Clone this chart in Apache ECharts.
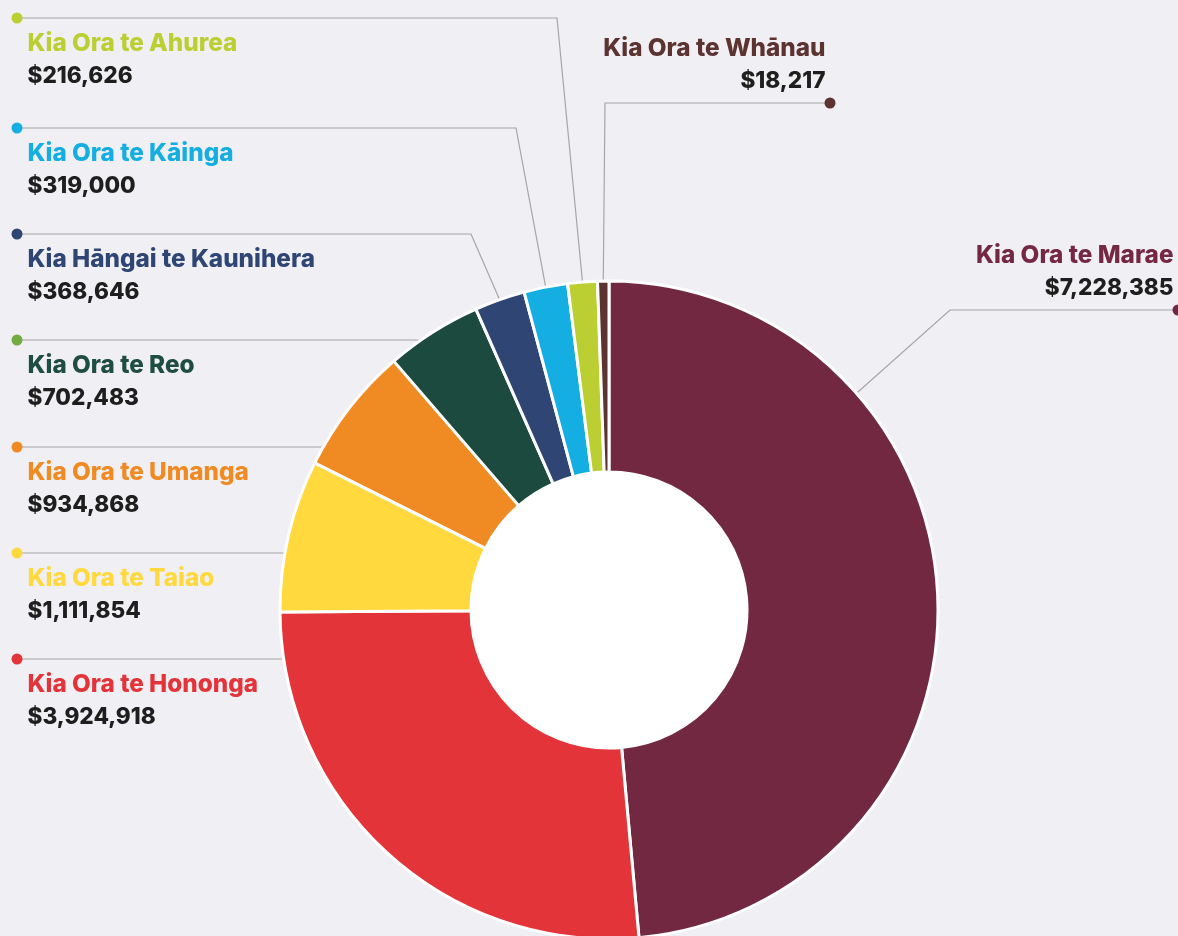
<!DOCTYPE html>
<html>
<head>
<meta charset="utf-8">
<script src="https://cdn.jsdelivr.net/npm/echarts@6/dist/echarts.min.js"></script>
<style>
html,body{margin:0;padding:0;background:#efeff4;}
#chart{width:1178px;height:936px;}
</style>
</head>
<body>
<div id="chart"></div>
<script>
// ---- data ----
const categories = ['Kia Ora te Marae','Kia Ora te Hononga','Kia Ora te Taiao','Kia Ora te Umanga','Kia Ora te Reo','Kia Hāngai te Kaunihera','Kia Ora te Kāinga','Kia Ora te Ahurea','Kia Ora te Whānau'];
const values = [7228385, 3924918, 1111854, 934868, 702483, 368646, 319000, 216626, 18217];

// ---- styles ----
const sliceColors = ['#732841','#e3343a','#ffd93d','#f08b24','#1d4a3f','#2f4674','#14aee3','#bbcf33','#5c3330'];
const nameColors  = ['#752842','#e3343a','#ffd93d','#f08b24','#1f4d3f','#2f4674','#14aee3','#bbcf33','#5c3330'];
const dotColors   = ['#732841','#e3343a','#ffd93d','#f08b24','#72ab43','#2f4674','#14aee3','#bbcf33','#5c3330'];

// ---- layout ----
const CX = 609, CY = 610, R = 329, R0 = 138;
const LAYOUT = [
  {side:'right', x:1183.5, top:238, bend:950, angle:48.8},
  {side:'left', lineY:659},
  {side:'left', lineY:553},
  {side:'left', lineY:447},
  {side:'left', lineY:340},
  {side:'left', lineY:234, bend:471},
  {side:'left', lineY:128, bend:516},
  {side:'left', lineY:18, bend:557},
  {side:'right', x:835.5, top:31, bend:605}
];

const FONT = 'Inter, "Noto Sans", sans-serif';
const FSN = 24.3, FSV = 22.6;
const rich = {
  vl: {fontFamily:FONT, fontWeight:800, fontSize:FSV, color:'#1e1e1e', lineHeight:28, padding:[0,0,0,16]},
  vr: {fontFamily:FONT, fontWeight:800, fontSize:FSV, color:'#1e1e1e', lineHeight:28, padding:[0,10,0,0]}
};
categories.forEach((c,i)=>{
  rich['d'+i] = {width:11, height:11, borderRadius:6, backgroundColor:dotColors[i], lineHeight:16, fontSize:1};
  rich['nl'+i] = {fontFamily:FONT, fontWeight:800, fontSize:FSN, color:nameColors[i], lineHeight:36, padding:[0,0,0,16]};
  rich['nr'+i] = {fontFamily:FONT, fontWeight:800, fontSize:FSN, color:nameColors[i], lineHeight:36, padding:[0,10,0,0]};
});

const fmt = v => '$' + v.toLocaleString('en-US');

const chart = echarts.init(document.getElementById('chart'), null, {renderer:'canvas'});
chart.setOption({
  backgroundColor:'#efeff4',
  animation:false,
  series:[
    {
      type:'pie', silent:true, z:1,
      center:[CX,CY], radius:[0,R0+2],
      label:{show:false}, labelLine:{show:false},
      itemStyle:{color:'#ffffff'},
      data:[{value:1,name:''}]
    },
    {
      type:'pie', z:2,
      center:[CX,CY], radius:[R0,R],
      startAngle:90, clockwise:true, minAngle:2,
      avoidLabelOverlap:false,
      emphasis:{disabled:true},
      itemStyle:{borderColor:'#ffffff', borderWidth:3},
      label:{
        show:true, position:'outside',
        formatter: p => {
          const i = p.dataIndex;
          if (LAYOUT[i].side==='right') return '{nr'+i+'|'+p.name+'}\n{vr|'+fmt(p.value)+'}\n{d'+i+'| }';
          return '{d'+i+'| }\n{nl'+i+'|'+p.name+'}\n{vl|'+fmt(p.value)+'}';
        },
        rich: rich
      },
      labelLine:{show:true, lineStyle:{color:'#a6a6a6', width:1.2}},
      labelLayout: function(p){
        const i = p.dataIndex, L = LAYOUT[i];
        const s = p.labelLinePoints ? p.labelLinePoints[0] : [CX,CY-R];
        if (L.side==='right'){
          const dotX = L.x-5.5, dotY = L.top+72;
          let end = s;
          if (L.angle!=null){ const a = L.angle*Math.PI/180; end=[CX+R*Math.sin(a), CY-R*Math.cos(a)]; }
          return {x:L.x, y:L.top, align:'right', verticalAlign:'top', labelLinePoints:[end,[L.bend,dotY],[dotX,dotY]]};
        }
        const dotX = 17, dotY = L.lineY;
        let end, bend;
        if (L.bend!=null){ end = s; bend=[L.bend,dotY]; }
        else { const ex = CX - Math.sqrt(R*R-(dotY-CY)*(dotY-CY)); end=[ex,dotY]; bend=[ex,dotY]; }
        return {x:11.5, y:dotY-8, align:'left', verticalAlign:'top', labelLinePoints:[end,bend,[dotX,dotY]]};
      },
      data: categories.map((name,i)=>({name:name, value:values[i], itemStyle:{color:sliceColors[i]}}))
    }
  ]
});
</script>
</body>
</html>
